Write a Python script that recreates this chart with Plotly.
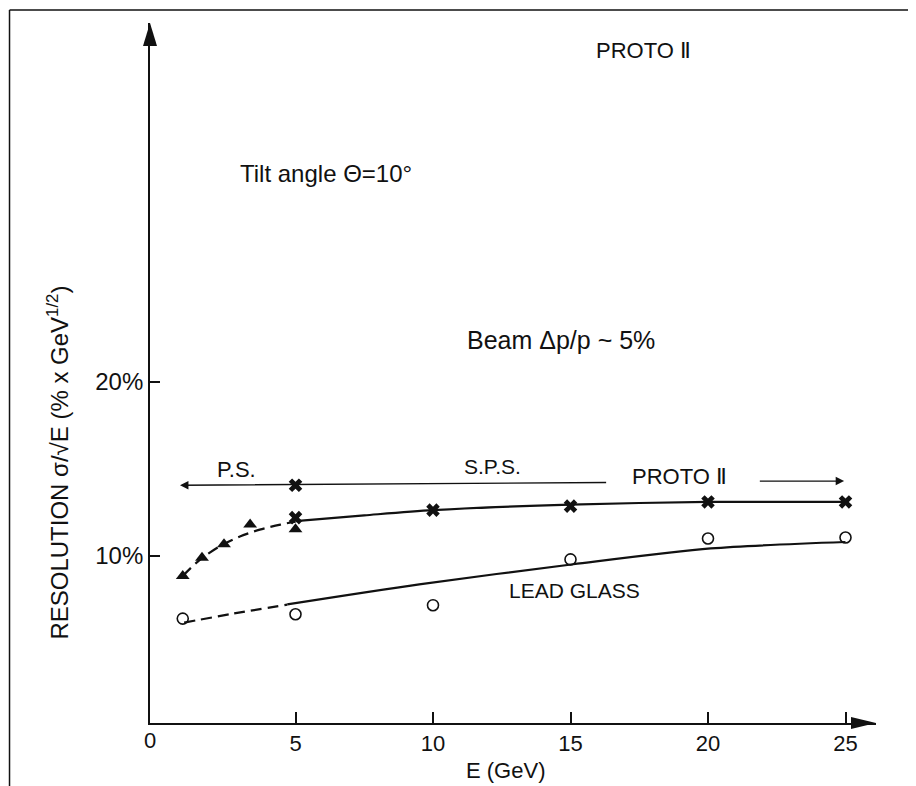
import plotly.graph_objects as go

# ---- data ----
E_proto = [5, 10, 15, 20, 25]
res_proto = [12.2, 12.63, 12.86, 13.1, 13.1]
E_proto_ps = [5]
res_proto_ps = [14.06]
E_tri = [0.9, 1.6, 2.4, 3.35, 5]
res_tri = [8.85, 9.9, 10.67, 11.8, 11.53]
E_lg = [0.9, 5, 10, 15, 20, 25]
res_lg = [6.4, 6.65, 7.17, 9.8, 11.0, 11.06]

fit_dash_E = [0.9, 1.5, 2.25, 3.0, 3.7, 4.45, 5.0]
fit_dash_v = [8.85, 9.75, 10.56, 11.13, 11.51, 11.8, 11.97]
fit_solid_E = [5.0, 7.5, 10, 15, 20, 25]
fit_solid_v = [12.0, 12.33, 12.63, 12.95, 13.1, 13.1]
lg_dash_E = [0.95, 2.75, 4.7]
lg_dash_v = [6.17, 6.69, 7.2]
lg_solid_E = [4.7, 9.5, 15.1, 20.1, 25]
lg_solid_v = [7.22, 8.37, 9.52, 10.43, 10.8]

x_ticks = [5, 10, 15, 20, 25]
y_ticks = [10, 20]
y_tick_text = ["10%", "20%"]

INK = "#111111"
FONT = "Liberation Sans, Arial, DejaVu Sans, sans-serif"

fig = go.Figure()

def line(x, y, dash=None, w=2.2):
    fig.add_trace(go.Scatter(x=x, y=y, mode="lines",
                             line=dict(color=INK, width=w, dash=dash, shape="spline", smoothing=0.8),
                             hoverinfo="skip"))

line(fit_dash_E, fit_dash_v, dash="11px,6px")
line(fit_solid_E, fit_solid_v)
line(lg_dash_E, lg_dash_v, dash="11px,6px")
line(lg_solid_E, lg_solid_v)

fig.add_trace(go.Scatter(x=E_proto + E_proto_ps, y=res_proto + res_proto_ps, mode="markers",
                         marker=dict(symbol="x", size=12, color=INK, line=dict(width=0))))
fig.add_trace(go.Scatter(x=E_tri, y=res_tri, mode="markers",
                         marker=dict(symbol="triangle-up", size=12, color=INK)))
fig.add_trace(go.Scatter(x=E_lg, y=res_lg, mode="markers",
                         marker=dict(symbol="circle-open", size=11, color=INK, line=dict(width=1.6, color=INK))))

annots = []
def txt(x, y, s, size=23):
    annots.append(dict(x=x, y=y, xref="x", yref="y", text=s, showarrow=False,
                       xanchor="center", yanchor="middle",
                       font=dict(family=FONT, size=size, color=INK)))

txt(17.64, 39.06, "PROTO Ⅱ", 22)
txt(6.11, 31.99, "Tilt angle Θ=10°", 24)
txt(14.67, 22.4, "Beam Δp/p ~ 5%", 25)
txt(2.86, 14.97, "P.S.", 22)
txt(12.16, 15.11, "S.P.S.", 21)
txt(18.95, 14.55, "PROTO Ⅱ", 22)
txt(15.15, 8.03, "LEAD GLASS", 21)

# beam range arrows
annots.append(dict(x=0.8, y=14.06, ax=16.35, ay=14.22, xref="x", yref="y", axref="x", ayref="y",
                   text="", showarrow=True, arrowhead=2, arrowsize=1.3, arrowwidth=1.3, arrowcolor=INK))
annots.append(dict(x=24.95, y=14.3, ax=21.83, ay=14.3, xref="x", yref="y", axref="x", ayref="y",
                   text="", showarrow=True, arrowhead=2, arrowsize=1.3, arrowwidth=1.3, arrowcolor=INK))

# axis titles and origin label
annots.append(dict(x=0.4897, y=-0.0676, xref="paper", yref="paper", text="E (GeV)", showarrow=False,
                   xanchor="center", yanchor="middle",
                   font=dict(family=FONT, size=22, color=INK)))
annots.append(dict(x=-0.1267, y=0.372, xref="paper", yref="paper", textangle=-90,
                   text="RESOLUTION σ/√E (% x GeV<sup>1/2</sup>)", showarrow=False,
                   xanchor="center", yanchor="middle",
                   font=dict(family=FONT, size=24, color=INK)))
annots.append(dict(x=0, y=-0.0255, xref="paper", yref="paper", text="0", showarrow=False,
                   xanchor="center", yanchor="middle",
                   font=dict(family=FONT, size=22, color=INK)))

shapes = [
    # axis arrowheads
    dict(type="path", xref="paper", yref="paper", xsizemode="pixel", ysizemode="pixel",
         xanchor=0, yanchor=1, path="M 0 0 L -7 -23 L 7 -23 Z", fillcolor=INK, line=dict(width=0)),
    dict(type="path", xref="paper", yref="paper", xsizemode="pixel", ysizemode="pixel",
         xanchor=1, yanchor=0, path="M 0 0 L -25 6 L -25 -6 Z", fillcolor=INK, line=dict(width=0)),
    # frame (top and left edges)
    dict(type="line", xref="paper", yref="paper", x0=-0.1935, x1=1.06, y0=1.0186, y1=1.0186,
         line=dict(color=INK, width=1.5)),
    dict(type="line", xref="paper", yref="paper", x0=-0.1935, x1=-0.1935, y0=1.0186, y1=-0.1,
         line=dict(color=INK, width=1.5)),
]

# page body has an 8px margin, so the plot div starts at (8, 8)
fig.update_layout(
    width=916, height=786,
    margin=dict(l=142, r=48, t=15, b=71.3),
    paper_bgcolor="white", plot_bgcolor="white",
    showlegend=False,
    annotations=annots, shapes=shapes,
    font=dict(family=FONT, size=22, color=INK),
)
fig.update_xaxes(range=[-0.291, 26.109], showgrid=False, zeroline=False,
                 showline=True, linecolor=INK, linewidth=1.8,
                 tickmode="array", tickvals=x_ticks, ticks="inside", ticklen=11, tickwidth=1.5,
                 tickcolor=INK, tickfont=dict(family=FONT, size=22, color=INK))
fig.update_yaxes(range=[0.402, 40.615], showgrid=False, zeroline=False,
                 showline=True, linecolor=INK, linewidth=1.8,
                 tickmode="array", tickvals=y_ticks, ticktext=y_tick_text, ticks="inside",
                 ticklen=10, tickwidth=1.5, tickcolor=INK,
                 tickfont=dict(family=FONT, size=24, color=INK))

fig.write_html("out.html")
